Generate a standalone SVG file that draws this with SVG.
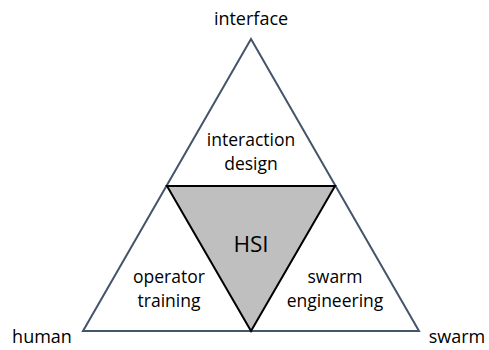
<svg xmlns="http://www.w3.org/2000/svg" width="489" height="350" viewBox="0 0 489 350">
<style>
text{font-family:"Open Sans","Liberation Sans",sans-serif;font-size:17.5px;fill:#000;text-anchor:middle}
.corner{font-size:18px}
.outer{fill:#fff;stroke:#44546A;stroke-width:2}
.inner{fill:#BFBFBF;stroke:#000;stroke-width:2;stroke-linejoin:miter}
</style>
<rect width="489" height="350" fill="#fff"/>
<g id="outer-triangle"><polygon class="outer" points="251,39 83,331 419,331"/></g>
<g id="hsi"><polygon class="inner" points="167,186 335,186 251,331"/><text x="251" y="252" style="font-size:22.5px">HSI</text></g>
<g id="interface"><text class="corner" x="251" y="25">interface</text></g>
<g id="human"><text class="corner" x="42" y="343">human</text></g>
<g id="swarm"><text class="corner" x="457" y="343">swarm</text></g>
<g id="interaction-design"><text x="251" y="146">interaction</text><text x="251" y="170">design</text></g>
<g id="operator-training"><text x="169" y="283">operator</text><text x="169" y="307">training</text></g>
<g id="swarm-engineering"><text x="335" y="283">swarm</text><text x="335" y="307">engineering</text></g>
<g id="connectors"></g>
</svg>
